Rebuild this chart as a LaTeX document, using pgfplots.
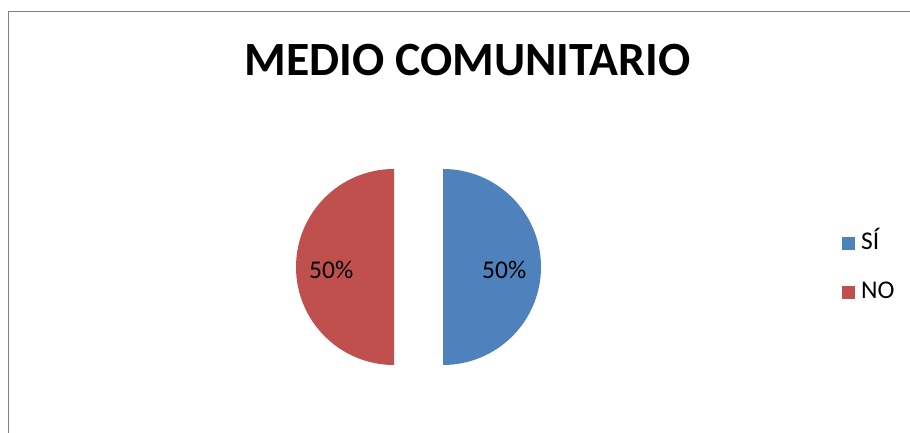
\documentclass[border=0pt]{standalone}
\usepackage{pgfplots}
\pgfplotsset{compat=1.18}
\usepackage{pgfplotstable}
\usepackage{fontspec}
\setmainfont{Carlito}
\definecolor{siblue}{HTML}{4F81BD}
\definecolor{nored}{HTML}{C0504D}
\definecolor{framegray}{HTML}{808080}
\pgfplotstableread{
label value
SI 50
NO 50
}\piedata
\begin{document}
\begin{tikzpicture}
\useasboundingbox (0,0) rectangle (910pt,433pt);
\pgfplotstablegetelem{0}{value}\of\piedata \let\va\pgfplotsretval
\pgfplotstablegetelem{1}{value}\of\piedata \let\vb\pgfplotsretval
\pgfmathsetmacro\tot{\va+\vb}
\pgfmathsetmacro\fa{\va/\tot}
\pgfmathsetmacro\fb{\vb/\tot}
\pgfmathsetmacro\aA{90-360*\fa}
\pgfmathsetmacro\mA{(90+\aA)/2}
\pgfmathsetmacro\aB{\aA-360*\fb}
\pgfmathsetmacro\mB{(\aA+\aB)/2}
\pgfmathsetmacro\pA{100*\fa}
\pgfmathsetmacro\pB{100*\fb}
\def\cx{418.5}\def\cy{166}\def\r{98}\def\ex{24.5}
\begin{axis}[x=1pt,y=1pt,xmin=0,xmax=910,ymin=0,ymax=433,
  hide axis, clip=false, at={(0,0)}, anchor=south west,
  /pgf/number format/assume math mode=true]
\fill[siblue] (axis cs:{\cx+\ex*cos(\mA)},{\cy+\ex*sin(\mA)}) -- ++(90:\r pt) arc[start angle=90, end angle=\aA, radius=\r pt] -- cycle;
\fill[nored] (axis cs:{\cx+\ex*cos(\mB)},{\cy+\ex*sin(\mB)}) -- ++(\aA:\r pt) arc[start angle=\aA, end angle=\aB, radius=\r pt] -- cycle;
\node[font=\fontsize{25.5}{28}\selectfont, inner sep=0pt] at (axis cs:{\cx+(\ex+0.625*\r)*cos(\mA)},163) {\pgfmathprintnumber[precision=0,assume math mode=true]{\pA}\%};
\node[font=\fontsize{25.5}{28}\selectfont, inner sep=0pt] at (axis cs:{\cx+(\ex+0.64*\r)*cos(\mB)},163) {\pgfmathprintnumber[precision=0,assume math mode=true]{\pB}\%};
% title
\node[font=\fontsize{47.7}{52}\selectfont\bfseries, anchor=base, inner sep=0pt] at (axis cs:467.5,357) {MEDIO COMUNITARIO};
% legend
\fill[siblue] (axis cs:842,183) rectangle (axis cs:855,196);
\node[font=\fontsize{25.5}{28}\selectfont, anchor=base west, inner sep=0pt] at (axis cs:861,183) {SÍ};
\fill[nored] (axis cs:842,134) rectangle (axis cs:855,147);
\node[font=\fontsize{25.5}{28}\selectfont, anchor=base west, inner sep=0pt] at (axis cs:861,134) {NO};
\end{axis}
\draw[framegray, line width=1.6pt] (8.5pt,-10pt) -- (8.5pt,421.5pt) -- (930pt,421.5pt);
\end{tikzpicture}
\end{document}
